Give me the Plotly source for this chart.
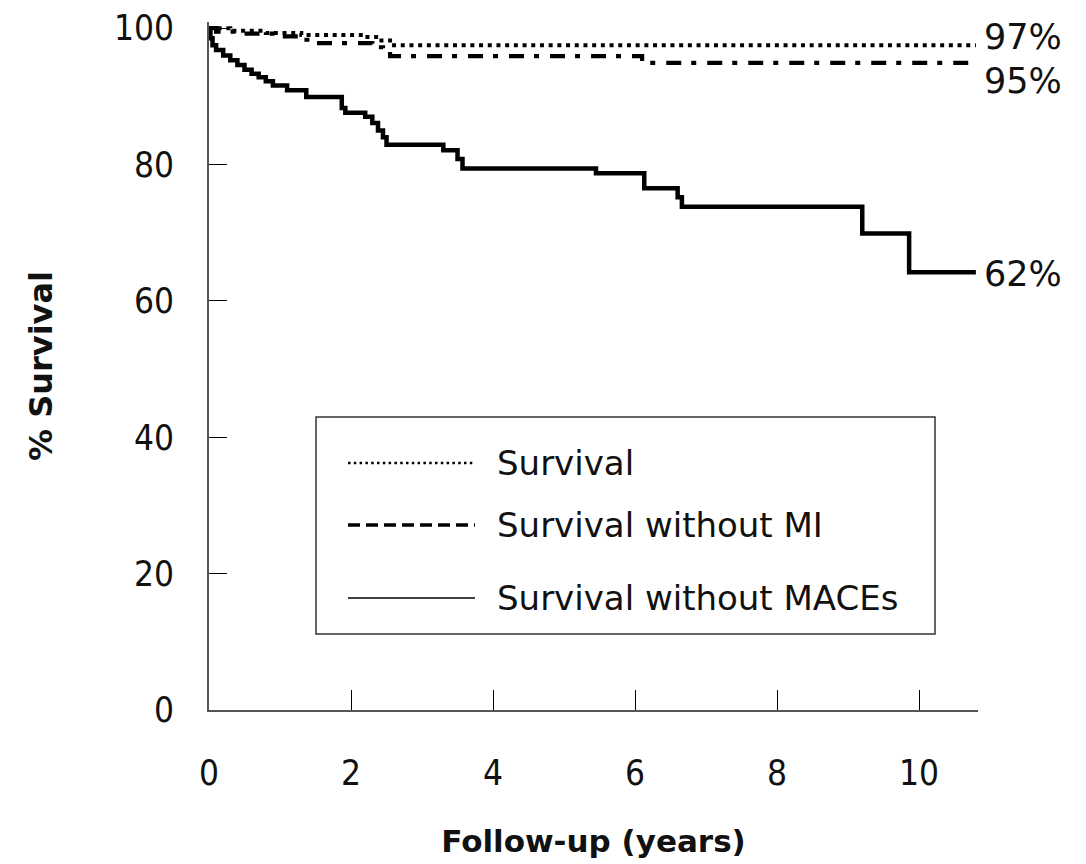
import plotly.graph_objects as go

# Kaplan-Meier step data (years, % surviving)
mace_t = [0, 0.02, 0.05, 0.1, 0.2, 0.3, 0.4, 0.5, 0.6, 0.7, 0.8, 0.9, 1.1, 1.37, 1.87, 1.92,
          2.2, 2.3, 2.38, 2.45, 2.5, 3.3, 3.5, 3.57, 5.45, 6.13, 6.6, 6.66, 9.2, 9.86, 10.8]
mace_v = [100, 98.5, 97.5, 96.8, 96.0, 95.3, 94.6, 93.9, 93.3, 92.8, 92.2, 91.6, 90.9, 89.9, 88.3, 87.6,
          87.0, 86.1, 85.0, 84.0, 82.9, 82.1, 80.8, 79.4, 78.7, 76.5, 75.2, 73.8, 69.9, 64.2, 64.2]

surv_t = [0, 0.3, 0.8, 1.3, 2.2, 2.4, 2.55, 10.8]
surv_v = [100, 99.6, 99.3, 99.0, 98.7, 98.2, 97.5, 97.5]

mi_t = [0, 0.1, 0.5, 1.0, 1.3, 1.5, 2.3, 2.45, 2.55, 6.1, 10.8]
mi_v = [100, 99.5, 99.2, 98.8, 98.3, 97.8, 97.2, 96.6, 95.9, 94.9, 94.9]

end_labels = ["97%", "95%", "62%"]
end_label_y = [98.7, 92.3, 64.0]

legend_names = ["Survival", "Survival without MI", "Survival without MACEs"]

x_ticks = [0, 2, 4, 6, 8, 10]
y_ticks = [0, 20, 40, 60, 80, 100]

TICKFONT = "DejaVu Sans Condensed, DejaVu Sans"
TEXTFONT = "DejaVu Sans"

fig = go.Figure()
fig.add_trace(go.Scatter(x=surv_t, y=surv_v, mode="lines", line_shape="hv",
                         line=dict(color="black", width=4, dash="4px,4.7px"), showlegend=False))
fig.add_trace(go.Scatter(x=mi_t, y=mi_v, mode="lines", line_shape="hv",
                         line=dict(color="black", width=4.2, dash="15px,10px,5px,11px"), showlegend=False))
fig.add_trace(go.Scatter(x=mace_t, y=mace_v, mode="lines", line_shape="hv",
                         line=dict(color="black", width=4.5), showlegend=False))

for txt, yv in zip(end_labels, end_label_y):
    fig.add_annotation(x=1.0, xref="paper", xanchor="left", xshift=4, y=yv, yref="y",
                       text=txt, showarrow=False,
                       font=dict(family=TEXTFONT, size=35, color="#111111"))

# manual legend box
fig.add_shape(type="rect", xref="paper", yref="paper",
              x0=(316 - 209) / 769, x1=(935 - 209) / 769,
              y0=(710 - 634) / 688, y1=(710 - 417) / 688,
              line=dict(color="#333333", width=1.5), fillcolor="white")
leg_y = [463, 525, 598]
leg_style = [dict(dash="2.5px,3.3px", width=2.5), dict(dash="12px,6px", width=3.5), dict(dash="solid", width=1.3)]
for name, yy, st in zip(legend_names, leg_y, leg_style):
    yp = (710 - yy) / 688
    fig.add_shape(type="line", xref="paper", yref="paper",
                  x0=(348 - 209) / 769, x1=(475 - 209) / 769, y0=yp, y1=yp,
                  line=dict(color="black", **st))
    fig.add_annotation(x=(495 - 209) / 769, xref="paper", xanchor="left", y=yp, yref="paper",
                       yanchor="middle", text=name, showarrow=False,
                       font=dict(family=TEXTFONT, size=34, color="#111111"))

fig.update_layout(
    width=1086, height=864,
    margin=dict(l=209, r=108, t=22, b=154, autoexpand=False),
    plot_bgcolor="white", paper_bgcolor="white",
    font=dict(family=TICKFONT, size=35, color="#111111"),
    xaxis=dict(range=[0, 10.83], tickvals=x_ticks, ticks="inside", ticklen=20, tickwidth=1.2,
               tickcolor="black", showline=True, linecolor="#555555", linewidth=2,
               showgrid=False, zeroline=False, ticklabelstandoff=31, automargin=False,
               tickfont=dict(family=TICKFONT, size=35),
               title=dict(text="<b>Follow-up (years)</b>", standoff=38,
                          font=dict(family=TEXTFONT, size=31))),
    yaxis=dict(range=[0, 100.9], tickvals=y_ticks, ticks="inside", ticklen=18, tickwidth=1.2,
               tickcolor="black", showline=True, linecolor="#555555", linewidth=2,
               showgrid=False, zeroline=False, ticklabelstandoff=26, automargin=False,
               tickfont=dict(family=TICKFONT, size=35),
               title=dict(text="<b>% Survival</b>", standoff=52,
                          font=dict(family=TEXTFONT, size=32))),
)

fig.write_html("out.html")
